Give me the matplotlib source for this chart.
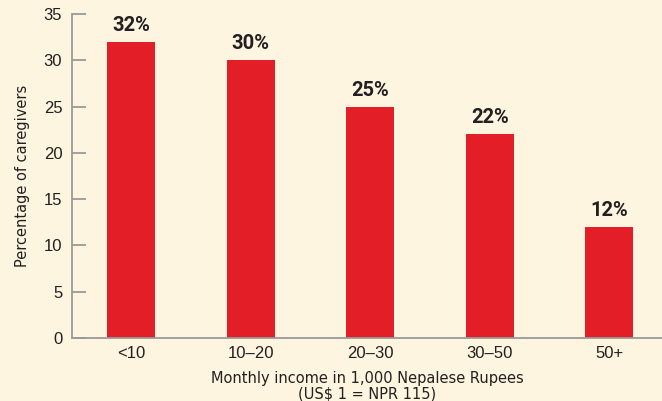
import matplotlib
matplotlib.use("Agg")
import matplotlib.pyplot as plt

categories = ["<10", "10\u201320", "20\u201330", "30\u201350", "50+"]
values = [32, 30, 25, 22, 12]
labels = ["32%", "30%", "25%", "22%", "12%"]
yticks = [0, 5, 10, 15, 20, 25, 30, 35]

bg = "#FDF5E0"
red = "#E31E26"
txt = "#231F20"
grey = "#9A9A9A"

plt.rcParams['font.family'] = ['Liberation Sans', 'DejaVu Sans']

fig = plt.figure(figsize=(6.62, 4.01), dpi=100, facecolor=bg)
ax = fig.add_axes([72/662, (401-338)/401, 1 - 72/662, (338-14)/401])
ax.set_facecolor(bg)

x = list(range(len(categories)))
ax.bar(x, values, width=0.40, color=red, zorder=2)
for xi, v, l in zip(x, values, labels):
    ax.text(xi, v + 0.75, l, ha='center', va='bottom', fontsize=14.5, fontweight='bold',
            color=txt, family=['Roboto', 'DejaVu Sans'])

ax.set_xlim(-0.494, 4.44)
ax.set_ylim(0, 35)
ax.set_yticks(yticks)
ax.set_xticks(x)
ax.set_xticklabels(categories)

for s in ['top', 'right']:
    ax.spines[s].set_visible(False)
for s in ['left', 'bottom']:
    ax.spines[s].set_color(grey)
    ax.spines[s].set_linewidth(1.3)

ax.tick_params(axis='y', direction='in', length=10, width=1.3, color=grey,
               labelsize=12, labelcolor=txt, pad=7)
ax.tick_params(axis='x', length=0, labelsize=12, labelcolor=txt, pad=6)

ax.set_ylabel("Percentage of caregivers", fontsize=10.5, color=txt, labelpad=10,
              family=['DejaVu Sans'])
ax.set_xlabel("Monthly income in 1,000 Nepalese Rupees\n(US$ 1 = NPR 115)",
              fontsize=10.5, color=txt, labelpad=7, linespacing=1.05,
              family=['DejaVu Sans'])

fig.savefig("out.png", dpi=100, facecolor=bg)
